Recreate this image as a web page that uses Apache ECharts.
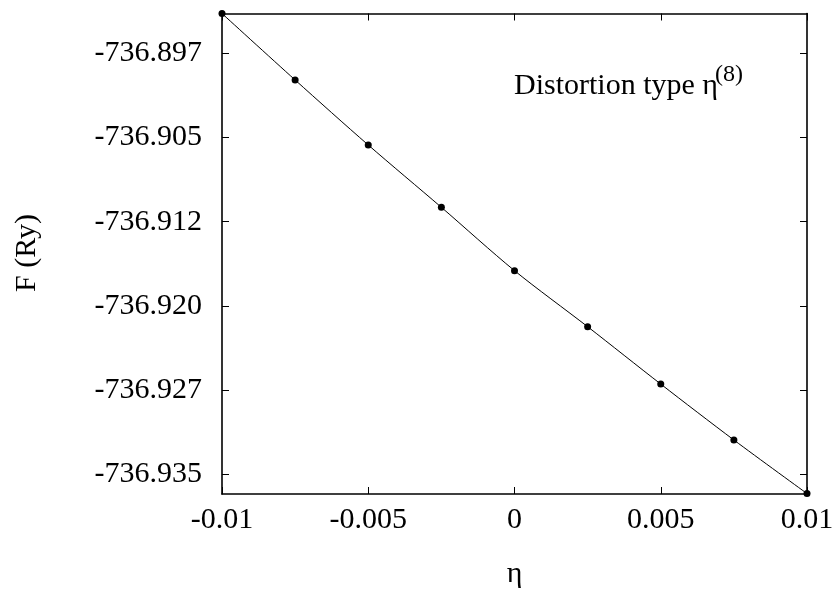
<!DOCTYPE html>
<html>
<head>
<meta charset="utf-8">
<script src="https://cdn.jsdelivr.net/npm/echarts@6/dist/echarts.min.js"></script>
<style>
html,body{margin:0;padding:0;background:#fff;}
#chart{width:838px;height:589px;}
</style>
</head>
<body>
<div id="chart"></div>
<script>
// Data
var etaValues = [-0.01, -0.0075, -0.005, -0.0025, 0, 0.0025, 0.005, 0.0075, 0.01];
var energyValues = [-736.89396, -736.89988, -736.90567, -736.91122, -736.91686, -736.92185, -736.92696, -736.93194, -736.93671];
var xTickValues = [-0.01, -0.005, 0, 0.005, 0.01];
var xTickLabels = ['-0.01', '-0.005', '0', '0.005', '0.01'];
var yTickValues = [-736.8975, -736.905, -736.9125, -736.92, -736.9275, -736.935];
var yTickLabels = ['-736.897', '-736.905', '-736.912', '-736.920', '-736.927', '-736.935'];

var FONT = '"Liberation Serif", "DejaVu Serif", serif';
var FS = 30;

function nearestLabel(v, vals, labels) {
  var best = 0, bd = Infinity;
  for (var i = 0; i < vals.length; i++) {
    var d = Math.abs(vals[i] - v);
    if (d < bd) { bd = d; best = i; }
  }
  return labels[best];
}

var chart = echarts.init(document.getElementById('chart'), null, {renderer: 'canvas'});
var axisLineStyle = {color: '#000', width: 1.6};
var tickStyle = {color: '#000', width: 1};

var option = {
  backgroundColor: '#fff',
  animation: false,
  grid: {left: 222, right: 31, top: 13.5, bottom: 95, containLabel: false, outerBoundsMode: 'none'},
  xAxis: [
    {
      type: 'value', position: 'bottom', min: -0.01, max: 0.01, interval: 0.005,
      axisLine: {show: true, onZero: false, lineStyle: axisLineStyle},
      axisTick: {show: true, inside: true, length: 7, lineStyle: tickStyle},
      splitLine: {show: false},
      axisLabel: {
        show: true, margin: 11, color: '#000', fontFamily: FONT, fontSize: FS,
        formatter: function (v) { return nearestLabel(v, xTickValues, xTickLabels); }
      },
      name: 'η', nameLocation: 'middle', nameGap: 65,
      nameTextStyle: {color: '#000', fontFamily: FONT, fontSize: FS}
    },
    {
      type: 'value', position: 'top', min: -0.01, max: 0.01, interval: 0.005,
      axisLine: {show: true, onZero: false, lineStyle: axisLineStyle},
      axisTick: {show: true, inside: true, length: 7, lineStyle: tickStyle},
      splitLine: {show: false},
      axisLabel: {show: false}
    }
  ],
  yAxis: [
    {
      type: 'value', position: 'left', min: -736.93675, max: -736.89396, scale: true,
      axisLine: {show: true, onZero: false, lineStyle: axisLineStyle},
      axisTick: {show: true, inside: true, length: 7, lineStyle: tickStyle, customValues: yTickValues},
      splitLine: {show: false},
      axisLabel: {
        show: true, margin: 20, color: '#000', fontFamily: FONT, fontSize: FS,
        customValues: yTickValues,
        formatter: function (v) { return nearestLabel(v, yTickValues, yTickLabels); }
      }
    },
    {
      type: 'value', position: 'right', min: -736.93675, max: -736.89396, scale: true,
      axisLine: {show: true, onZero: false, lineStyle: axisLineStyle},
      axisTick: {show: true, inside: true, length: 7, lineStyle: tickStyle, customValues: yTickValues},
      splitLine: {show: false},
      axisLabel: {show: false, customValues: yTickValues}
    }
  ],
  graphic: [
    {
      type: 'text', x: 27, y: 253, rotation: Math.PI / 2,
      style: {text: 'F (Ry)', fill: '#000', font: FS + 'px ' + FONT, align: 'center', verticalAlign: 'middle'}
    },
    {
      type: 'text', x: 514, y: 86,
      style: {text: 'Distortion type η', fill: '#000', font: FS + 'px ' + FONT, align: 'left', verticalAlign: 'middle'}
    },
    {
      type: 'text', x: 715, y: 75,
      style: {text: '(8)', fill: '#000', font: '24px ' + FONT, align: 'left', verticalAlign: 'middle'}
    }
  ],
  series: [
    {
      type: 'line', xAxisIndex: 0, yAxisIndex: 0,
      data: etaValues.map(function (x, i) { return [x, energyValues[i]]; }),
      smooth: 0.3, clip: false,
      symbol: 'circle', symbolSize: 7, showAllSymbol: true,
      lineStyle: {color: '#000', width: 1},
      itemStyle: {color: '#000'}
    }
  ]
};
chart.setOption(option);
</script>
</body>
</html>
